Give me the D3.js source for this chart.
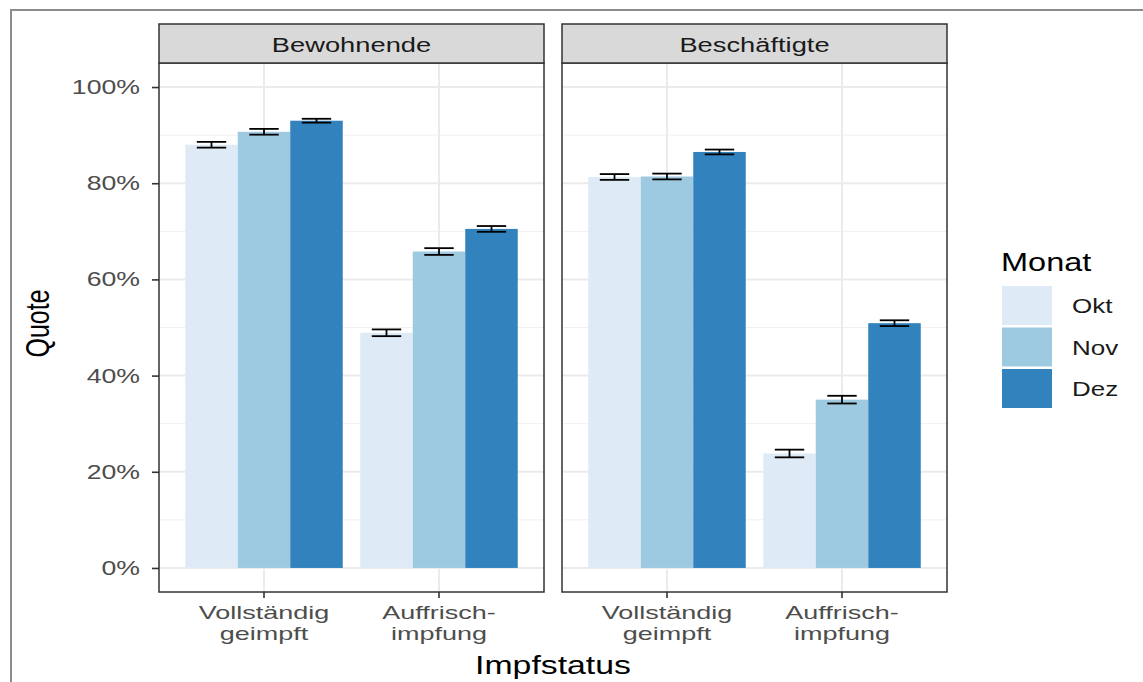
<!DOCTYPE html>
<html>
<head>
<meta charset="utf-8">
<script src="https://cdn.jsdelivr.net/npm/d3@7"></script>
<style>
  body { margin: 0; background: #fff; }
  svg { display: block; font-family: "Liberation Sans", Arial, sans-serif; }
</style>
</head>
<body>
<svg id="chart"></svg>
<script>
// data
const panels = ["Bewohnende", "Beschäftigte"];
const categories = ["Vollständig geimpft", "Auffrischimpfung"];
const categoryLines = [["Vollständig", "geimpft"], ["Auffrisch-", "impfung"]];
const months = ["Okt", "Nov", "Dez"];
const monthColors = ["#deebf7", "#9ecae1", "#3182bd"];
// order: Vollständig Okt/Nov/Dez, Auffrisch Okt/Nov/Dez
const bewohnendeQuote = [0.880, 0.907, 0.930, 0.489, 0.658, 0.705];
const bewohnendeFehler = [0.006, 0.006, 0.004, 0.007, 0.007, 0.006];
const beschaeftigteQuote = [0.813, 0.814, 0.865, 0.238, 0.350, 0.509];
const beschaeftigteFehler = [0.006, 0.006, 0.005, 0.008, 0.008, 0.006];
const yTicks = [0, 0.2, 0.4, 0.6, 0.8, 1.0];
const yMinor = [0.1, 0.3, 0.5, 0.7, 0.9];

const W = 1143, H = 682;
const STRETCH = 1.3;   // text in the reference is drawn wider than normal

const svg = d3.select("#chart").attr("width", W).attr("height", H);

// outer frame (only top + left visible)
svg.append("rect")
    .attr("x", 11).attr("y", 10)
    .attr("width", W + 20).attr("height", H + 20)
    .attr("fill", "none").attr("stroke", "#8c8c8c").attr("stroke-width", 2);

function label(g, x, y, txt, size, anchor, fill, stretch) {
    return g.append("text")
        .attr("transform", `translate(${x},${y}) scale(${stretch || STRETCH},1)`)
        .attr("text-anchor", anchor)
        .attr("font-size", size)
        .attr("fill", fill)
        .text(txt);
}

const plotTop = 63, plotBottom = 592, stripTop = 24;

const panelScale = d3.scaleBand()
    .domain(panels)
    .range([159, 947])
    .paddingInner(18 / 403);

const yscale = d3.scaleLinear()
    .domain([-0.05, 1.05])
    .range([plotBottom, plotTop]);

const data = {
    "Bewohnende": { q: bewohnendeQuote, e: bewohnendeFehler },
    "Beschäftigte": { q: beschaeftigteQuote, e: beschaeftigteFehler }
};

panels.forEach((p, pi) => {
    const x0 = panelScale(p), pw = panelScale.bandwidth();
    const g = svg.append("g");

    const xscale = d3.scaleBand()
        .domain(categories)
        .range([x0, x0 + pw])
        .paddingInner(0.1)
        .paddingOuter(0.15);

    const mscale = d3.scaleBand()
        .domain(months)
        .range([0, xscale.bandwidth()]);

    // background + grid
    g.append("rect")
        .attr("x", x0).attr("y", plotTop)
        .attr("width", pw).attr("height", plotBottom - plotTop)
        .attr("fill", "#fff");

    g.selectAll(".minor").data(yMinor).join("line")
        .attr("x1", x0).attr("x2", x0 + pw)
        .attr("y1", d => yscale(d)).attr("y2", d => yscale(d))
        .attr("stroke", "#f0f0f0").attr("stroke-width", 1);

    g.selectAll(".major").data(yTicks).join("line")
        .attr("x1", x0).attr("x2", x0 + pw)
        .attr("y1", d => yscale(d)).attr("y2", d => yscale(d))
        .attr("stroke", "#ebebeb").attr("stroke-width", 2);

    g.selectAll(".vgrid").data(categories).join("line")
        .attr("x1", d => xscale(d) + xscale.bandwidth() / 2)
        .attr("x2", d => xscale(d) + xscale.bandwidth() / 2)
        .attr("y1", plotTop).attr("y2", plotBottom)
        .attr("stroke", "#ebebeb").attr("stroke-width", 2);

    // bars
    const rows = [];
    categories.forEach((c, ci) => {
        months.forEach((m, mi) => {
            rows.push({ c, m, mi, q: data[p].q[ci * 3 + mi], e: data[p].e[ci * 3 + mi] });
        });
    });

    g.selectAll(".bar").data(rows).join("rect")
        .attr("x", d => xscale(d.c) + mscale(d.m))
        .attr("y", d => yscale(d.q))
        .attr("width", mscale.bandwidth())
        .attr("height", d => yscale(0) - yscale(d.q))
        .attr("fill", d => monthColors[d.mi]);

    // error bars
    const ew = mscale.bandwidth() * 0.56;
    const eb = g.selectAll(".err").data(rows).join("g")
        .attr("stroke", "#000").attr("stroke-width", 1.8);
    const cx = d => xscale(d.c) + mscale(d.m) + mscale.bandwidth() / 2;
    eb.append("line")
        .attr("x1", cx).attr("x2", cx)
        .attr("y1", d => yscale(d.q + d.e)).attr("y2", d => yscale(d.q - d.e));
    eb.append("line")
        .attr("x1", d => cx(d) - ew / 2).attr("x2", d => cx(d) + ew / 2)
        .attr("y1", d => yscale(d.q + d.e)).attr("y2", d => yscale(d.q + d.e));
    eb.append("line")
        .attr("x1", d => cx(d) - ew / 2).attr("x2", d => cx(d) + ew / 2)
        .attr("y1", d => yscale(d.q - d.e)).attr("y2", d => yscale(d.q - d.e));

    // panel border
    g.append("rect")
        .attr("x", x0).attr("y", plotTop)
        .attr("width", pw).attr("height", plotBottom - plotTop)
        .attr("fill", "none").attr("stroke", "#333").attr("stroke-width", 1.5);

    // strip
    g.append("rect")
        .attr("x", x0).attr("y", stripTop)
        .attr("width", pw).attr("height", plotTop - stripTop)
        .attr("fill", "#d9d9d9").attr("stroke", "#333").attr("stroke-width", 1.5);
    label(g, x0 + pw / 2, 52, p, 21, "middle", "#1a1a1a");

    // bottom axis
    const xaxis = d3.axisBottom(xscale).tickSize(6).tickSizeOuter(0).tickFormat("");
    const xg = g.append("g")
        .attr("transform", `translate(0,${plotBottom})`)
        .call(xaxis);
    xg.select(".domain").remove();
    xg.selectAll(".tick line").attr("stroke", "#333").attr("stroke-width", 1.6);
    categories.forEach((c, ci) => {
        const mx = xscale(c) + xscale.bandwidth() / 2;
        const t = label(g, mx, 619, null, 19, "middle", "#4d4d4d", 1.42);
        t.selectAll("tspan").data(categoryLines[ci]).join("tspan")
            .attr("x", 0)
            .attr("dy", (d, i) => i === 0 ? 0 : 21.5)
            .text(d => d);
    });

    // left axis only on first panel
    if (pi === 0) {
        const yaxis = d3.axisLeft(yscale)
            .tickValues(yTicks)
            .tickSize(7)
            .tickFormat(d3.format(".0%"));
        const yg = g.append("g")
            .attr("transform", `translate(${x0},0)`)
            .call(yaxis);
        yg.select(".domain").remove();
        yg.selectAll(".tick line").attr("stroke", "#333").attr("stroke-width", 1.6);
        yg.selectAll(".tick text")
            .attr("x", 0)
            .attr("transform", `translate(-19,0) scale(${STRETCH},1)`)
            .attr("font-size", 20.5)
            .attr("font-family", "Liberation Sans, Arial, sans-serif")
            .attr("fill", "#4d4d4d");
    }
});

// axis titles
const midX = (panelScale(panels[0]) + panelScale(panels[1]) + panelScale.bandwidth()) / 2;
label(svg, midX, 674, "Impfstatus", 26, "middle", "#000");
svg.append("text")
    .attr("transform", `translate(49,${(plotTop + plotBottom) / 2 - 4}) scale(${STRETCH},1) rotate(-90)`)
    .attr("text-anchor", "middle")
    .attr("font-size", 25)
    .attr("fill", "#000")
    .text("Quote");

// legend
const legend = svg.append("g");
label(legend, 1001, 271, "Monat", 25, "start", "#000");
const keyScale = d3.scaleBand().domain(months).range([286, 408]).paddingInner(0.06);
legend.selectAll(".key").data(months).join("rect")
    .attr("x", 1002)
    .attr("y", d => keyScale(d))
    .attr("width", 50)
    .attr("height", keyScale.bandwidth())
    .attr("fill", (d, i) => monthColors[i]);
months.forEach(m => {
    label(legend, 1072, keyScale(m) + keyScale.bandwidth() / 2 + 7.5, m, 20, "start", "#1a1a1a");
});
</script>
</body>
</html>
